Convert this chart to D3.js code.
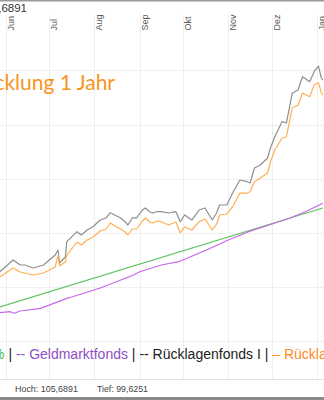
<!DOCTYPE html>
<html>
<head>
<meta charset="utf-8">
<script src="https://cdn.jsdelivr.net/npm/d3@7"></script>
<style>
  html, body { margin: 0; padding: 0; background: #fff; overflow: hidden; }
  svg { display: block; }
</style>
</head>
<body>
<svg id="chart" width="324" height="400"></svg>
<script>
// x axis: month starts and their German labels
var monthStarts = ["2023-06-01", "2023-07-01", "2023-08-01", "2023-09-01", "2023-10-01", "2023-11-01", "2023-12-01", "2024-01-01"];
var monthLabels = ["Jun", "Jul", "Aug", "Sep", "Okt", "Nov", "Dez", "Jan"];
var gridValues = [101, 102, 103, 104, 105, 106];

// Rücklagenfonds I (grey) and Rücklagenfonds (orange), same dates
var fundDates = ["2023-05-28", "2023-05-31", "2023-06-06", "2023-06-11", "2023-06-14", "2023-06-20", "2023-06-27",
  "2023-07-05", "2023-07-07", "2023-07-08", "2023-07-12", "2023-07-13", "2023-07-20", "2023-07-23", "2023-07-27", "2023-07-31",
  "2023-08-05", "2023-08-09", "2023-08-12", "2023-08-15", "2023-08-19", "2023-08-22", "2023-08-24", "2023-08-27", "2023-08-30",
  "2023-09-03", "2023-09-05", "2023-09-08", "2023-09-10", "2023-09-13", "2023-09-16", "2023-09-21", "2023-09-26", "2023-09-29",
  "2023-10-02", "2023-10-07", "2023-10-12", "2023-10-16", "2023-10-21", "2023-10-24", "2023-10-26", "2023-10-31",
  "2023-11-04", "2023-11-09", "2023-11-14", "2023-11-16", "2023-11-19", "2023-11-23", "2023-11-28", "2023-11-30",
  "2023-12-03", "2023-12-08", "2023-12-11", "2023-12-15", "2023-12-19", "2023-12-22", "2023-12-27", "2023-12-30",
  "2024-01-02", "2024-01-04", "2024-01-05"];
var rfIValues = [102.274, 102.343, 102.491, 102.398, 102.398, 102.343, 102.398,
  102.583, 102.676, 102.435, 102.546, 102.830, 103.015, 102.954, 103.046, 103.107,
  103.231, 103.269, 103.367, 103.324, 103.269, 103.200, 103.139, 103.269, 103.269,
  103.417, 103.454, 103.385, 103.361, 103.385, 103.385, 103.361, 103.385, 103.200,
  103.324, 103.231, 103.417, 103.454, 103.231, 103.361, 103.509, 103.509,
  103.731, 103.972, 103.941, 103.917, 104.194, 104.250, 104.380, 104.565,
  104.774, 105.052, 105.028, 105.583, 105.639, 105.885, 105.793, 105.978,
  106.083, 105.861, 105.824];
var rfValues = [102.181, 102.231, 102.343, 102.269, 102.250, 102.213, 102.250,
  102.361, 102.583, 102.380, 102.454, 102.583, 102.824, 102.769, 102.861, 102.917,
  103.028, 103.065, 103.176, 103.120, 103.065, 103.009, 102.954, 103.065, 103.065,
  103.213, 103.269, 103.194, 103.176, 103.213, 103.200, 103.139, 103.194, 102.991,
  103.102, 103.046, 103.200, 103.250, 103.046, 103.157, 103.324, 103.343,
  103.478, 103.731, 103.731, 103.756, 103.941, 104.009, 104.102, 104.306,
  104.528, 104.750, 104.774, 105.306, 105.361, 105.583, 105.515, 105.731,
  105.774, 105.583, 105.546];

// Geldmarktfonds (purple)
var gmDates = ["2023-05-28", "2023-06-04", "2023-06-07", "2023-06-11", "2023-06-25", "2023-07-13", "2023-07-17",
  "2023-08-05", "2023-08-28", "2023-09-01", "2023-09-16", "2023-09-28", "2023-10-17", "2023-11-01", "2023-11-15",
  "2023-11-29", "2023-12-13", "2023-12-24", "2024-01-05"];
var gmValues = [101.515, 101.533, 101.504, 101.546, 101.596, 101.781, 101.811,
  101.972, 102.213, 102.274, 102.398, 102.459, 102.676, 102.861, 103.015,
  103.139, 103.263, 103.385, 103.541];

// reference rate (green, straight)
var refDates = ["2023-05-28", "2024-01-05"];
var refValues = [101.620, 103.454];

var legendItems = [
  { text: "-- Zinssatz 3 %", color: "#4cbb4c" },
  { text: " | ", color: "#222" },
  { text: "-- Geldmarktfonds", color: "#8e4fc6" },
  { text: " | ", color: "#222" },
  { text: "-- Rücklagenfonds I", color: "#222" },
  { text: " | ", color: "#222" },
  { text: "– Rücklagenfonds (A)", color: "#ff8a1c" }
];

var W = 324, H = 400;
var plotTop = 15, plotBottom = 379;
var parse = d3.timeParse("%Y-%m-%d");
var svg = d3.select("#chart");

var x = d3.scaleTime()
  .domain([parse(monthStarts[0]), parse(monthStarts[monthStarts.length - 1])])
  .range([5.7, 317]);
var y = d3.scaleLinear().domain([101, 107]).range([340.5, 16.5]);

svg.append("rect").attr("width", W).attr("height", H).attr("fill", "#fff");

svg.append("defs").append("clipPath").attr("id", "plotClip")
  .append("rect").attr("x", 0).attr("y", plotTop).attr("width", W).attr("height", plotBottom - plotTop);

// grid
var grid = svg.append("g").attr("stroke", "#efefef").attr("stroke-width", 1);
monthStarts.forEach(function (m) {
  var gx = Math.round(x(parse(m))) + 0.5;
  grid.append("line").attr("x1", gx).attr("x2", gx).attr("y1", plotTop).attr("y2", plotBottom);
});
gridValues.forEach(function (v) {
  var gy = Math.round(y(v)) + 0.5;
  grid.append("line").attr("x1", 0).attr("x2", W).attr("y1", gy).attr("y2", gy);
});
svg.append("line").attr("x1", 0).attr("x2", W).attr("y1", plotBottom + 0.5).attr("y2", plotBottom + 0.5)
  .attr("stroke", "#e2e2e2");

// month labels, rotated
monthStarts.forEach(function (m, i) {
  var lx = x(parse(m)) + 5;
  svg.append("text")
    .attr("transform", "translate(" + lx + ",30.5) rotate(-90)")
    .attr("dominant-baseline", "central")
    .attr("font-family", "Liberation Sans, Arial, sans-serif")
    .attr("font-size", 9)
    .attr("fill", "#555")
    .text(monthLabels[i]);
});

// title
svg.append("text").attr("x", 115).attr("y", 90).attr("text-anchor", "end")
  .attr("font-family", "Lato, sans-serif").attr("font-size", 21).attr("fill", "#f7941d")
  .text("Wertentwicklung 1 Jahr");

// lines
var line = d3.line().x(function (d) { return x(d[0]); }).y(function (d) { return y(d[1]); });
function pairs(dates, vals) { return dates.map(function (d, i) { return [parse(d), vals[i]]; }); }
var lines = svg.append("g").attr("clip-path", "url(#plotClip)").attr("fill", "none")
  .attr("stroke-linejoin", "round").attr("stroke-width", 1.2);
lines.append("path").attr("d", line(pairs(refDates, refValues))).attr("stroke", "#5cc25c");
lines.append("path").attr("d", line(pairs(gmDates, gmValues))).attr("stroke", "#c766ea");
lines.append("path").attr("d", line(pairs(fundDates, rfIValues))).attr("stroke", "#8f8f8f");
lines.append("path").attr("d", line(pairs(fundDates, rfValues))).attr("stroke", "#ffb050");

// legend
var legend = svg.append("text").attr("y", 359)
  .attr("font-family", "Liberation Sans, Arial, sans-serif").attr("font-size", 14);
legendItems.forEach(function (it) {
  legend.append("tspan").attr("fill", it.color).attr("xml:space", "preserve").style("white-space", "pre").text(it.text);
});
var firstW = legend.node().getSubStringLength(0, legendItems[0].text.length);
legend.attr("x", 4.5 - firstW);

// top value and stats; stats sized to their measured widths in the picture
svg.append("text").attr("x", 27).attr("y", 12).attr("text-anchor", "end")
  .attr("font-family", "Liberation Sans, Arial, sans-serif").attr("font-size", 11.5).attr("fill", "#333")
  .text("Kurs: 105,6891");
function stat(txt, x0, width) {
  var t = svg.append("text").attr("x", x0).attr("y", 392)
    .attr("font-family", "Liberation Sans, Arial, sans-serif").attr("font-size", 10).attr("fill", "#444")
    .text(txt);
  var w = t.node().getComputedTextLength();
  if (w > 0) t.attr("font-size", 10 * width / w);
}
stat("Hoch: 105,6891", 15, 63);
stat("Tief: 99,6251", 97, 51);

// frame bands
svg.append("rect").attr("x", 0).attr("y", 0).attr("width", W).attr("height", 1.5).attr("fill", "#9a9a9a");
svg.append("rect").attr("x", 0).attr("y", 397).attr("width", W).attr("height", 3).attr("fill", "#8a8a8a");
</script>
</body>
</html>
